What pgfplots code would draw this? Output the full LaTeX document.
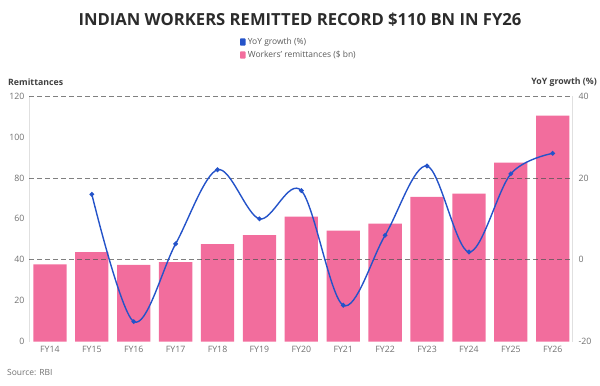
\documentclass[border=0pt]{standalone}
\usepackage{pgfplots}
\pgfplotsset{compat=1.18}
\usepackage{fontspec}
\setmainfont{Open Sans}
\definecolor{barpink}{HTML}{F26D9D}
\definecolor{lineblue}{HTML}{2453C9}
\definecolor{txtgrey}{HTML}{707070}
\definecolor{titlegrey}{HTML}{2B2B2B}
\definecolor{gridgrey}{HTML}{555555}
\begin{document}
\begin{tikzpicture}[x=1bp,y=1bp]
\begin{axis}[
  at={(0,0)}, anchor=south west,
  scale only axis, width=543bp, height=245.7bp,
  xmin=-0.5, xmax=12.46, ymin=0, ymax=120,
  axis y line*=left, axis x line*=bottom,
  x axis line style={draw=none},
  y axis line style={draw=black!12, line width=0.6bp},
  xtick={0,...,12},
  xticklabels={FY14,FY15,FY16,FY17,FY18,FY19,FY20,FY21,FY22,FY23,FY24,FY25,FY26},
  ytick={0,20,...,120},
  major tick length=0pt,
  tick label style={font=\fontsize{8.8}{10}\selectfont, text=txtgrey},
  /pgf/number format/assume math mode=true,
  xticklabel style={yshift=-1bp},
  yticklabel style={xshift=-1bp},
]
\addplot[ybar, bar width=33.3bp, fill=barpink, draw=none] coordinates {
(0,37.8) (1,43.8) (2,37.5) (3,38.9) (4,47.6) (5,52.1) (6,61.1)
(7,54.2) (8,57.7) (9,70.7) (10,72.3) (11,87.5) (12,110.4)};
\end{axis}
\begin{axis}[
  at={(0,0)}, anchor=south west,
  scale only axis, width=543bp, height=245.7bp,
  xmin=-0.5, xmax=12.46, ymin=-20, ymax=40,
  axis y line*=right, axis x line=none,
  y axis line style={draw=black!12, line width=0.6bp},
  ytick={-20,0,20,40},
  major tick length=0pt,
  tick label style={font=\fontsize{8.8}{10}\selectfont, text=txtgrey},
  /pgf/number format/assume math mode=true,
  yticklabel style={xshift=3bp},
  extra y ticks={0,20,40},
  extra y tick labels={},
  extra y tick style={grid=major, major grid style={draw=gridgrey, opacity=0.75, line width=0.7bp, dash pattern=on 5bp off 3bp}},
]
\addplot[smooth, tension=0.55, color=lineblue, line width=1.4bp, mark=*, mark size=1.6bp, mark options={fill=lineblue, draw=lineblue}] coordinates {
(1,16.0) (2,-15.1) (3,3.9) (4,22.0) (5,10.0) (6,16.9) (7,-11.1)
(8,6.0) (9,22.9) (10,1.9) (11,21.0) (12,26.0)};
\end{axis}
\node[font=\fontsize{16.7}{19}\selectfont\bfseries, text=titlegrey] at (271,322.2) {INDIAN WORKERS REMITTED RECORD \$110 BN IN FY26};
\fill[lineblue, rounded corners=0.8bp] (211,296) rectangle (216.5,303.4);
\fill[barpink, rounded corners=0.8bp] (211,283) rectangle (216.5,290.4);
\node[anchor=west, inner sep=0pt, font=\fontsize{8.5}{10}\selectfont, text=txtgrey!80!black] at (218.7,299.7) {YoY growth (\%)};
\node[anchor=west, inner sep=0pt, font=\fontsize{8.5}{10}\selectfont, text=txtgrey!80!black] at (218.7,286.7) {Workers' remittances (\$ bn)};
\node[anchor=west, inner sep=0pt, font=\fontsize{8.8}{10}\selectfont\bfseries, text=titlegrey!90] at (-21,259.7) {Remittances};
\node[anchor=east, inner sep=0pt, font=\fontsize{8.8}{10}\selectfont\bfseries, text=titlegrey!90] at (568,259.7) {YoY growth (\%)};
\node[anchor=west, inner sep=0pt, font=\fontsize{8.5}{10}\selectfont, text=txtgrey] at (-22,-30.3) {Source: RBI};
\pgfresetboundingbox
\path[use as bounding box] (-29,-43.3) rectangle (571,341.7);
\end{tikzpicture}
\end{document}
